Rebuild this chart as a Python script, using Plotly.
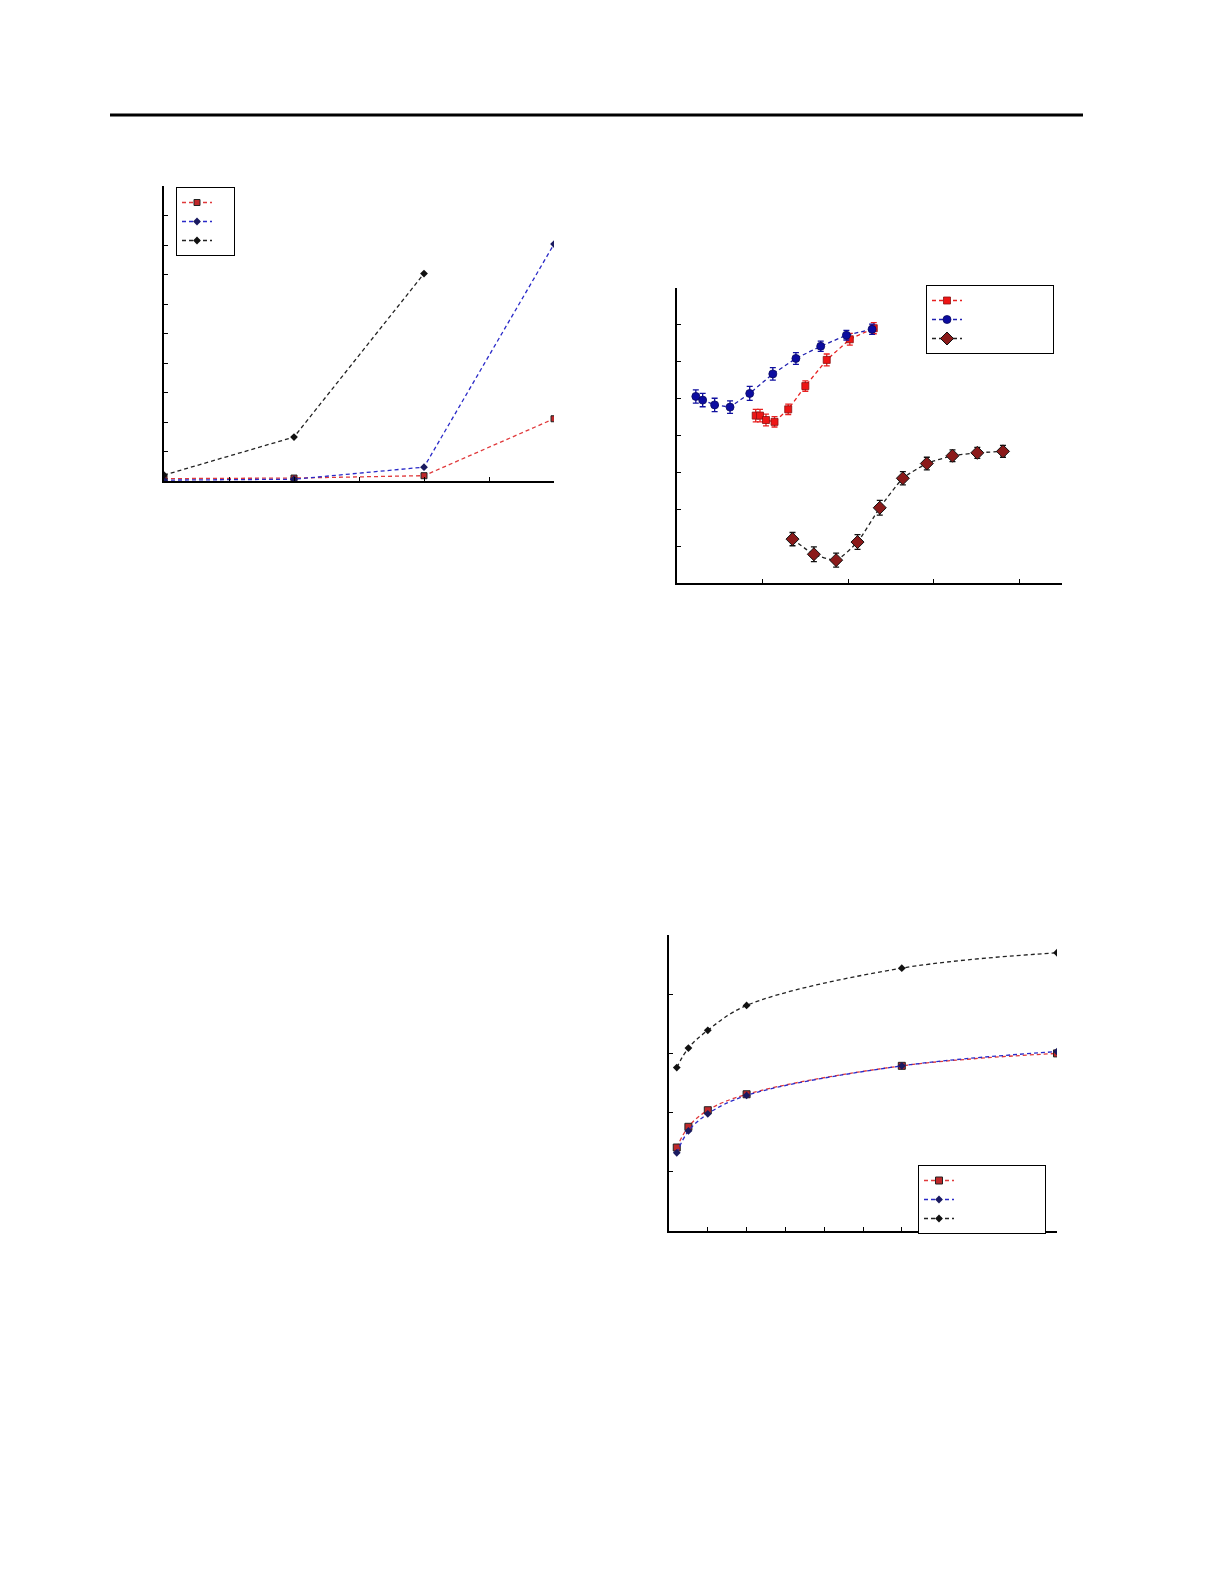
import plotly.graph_objects as go

# the page body adds an 8px margin all round, so the figure is 16px smaller
W, H = 1209, 1569
OFF = 8

# panel A (top left)
a_x = [0, 2, 4, 6]
a_red = [0.08, 0.10, 0.18, 2.11]
a_blue = [0.03, 0.06, 0.47, 8.03]
a_black_x = [0, 2, 4]
a_black = [0.20, 1.49, 7.03]

# panel B (top right), values with error bars
b_blue_x = [0.22, 0.30, 0.44, 0.62, 0.85, 1.12, 1.39, 1.68, 1.98, 2.28]
b_blue_y = [5.06, 4.96, 4.83, 4.77, 5.14, 5.67, 6.09, 6.42, 6.72, 6.88]
b_blue_err = [0.18, 0.18, 0.18, 0.17, 0.19, 0.17, 0.16, 0.14, 0.13, 0.14]
b_red_x = [0.92, 0.97, 1.04, 1.14, 1.30, 1.50, 1.75, 2.02, 2.30]
b_red_y = [4.54, 4.54, 4.42, 4.37, 4.71, 5.34, 6.05, 6.61, 6.91]
b_red_err = [0.17, 0.17, 0.16, 0.14, 0.14, 0.14, 0.16, 0.16, 0.15]
b_dia_x = [1.35, 1.60, 1.86, 2.11, 2.37, 2.64, 2.92, 3.22, 3.51, 3.81]
b_dia_y = [1.19, 0.78, 0.62, 1.11, 2.04, 2.84, 3.24, 3.45, 3.53, 3.57]
b_dia_err = [0.18, 0.20, 0.19, 0.20, 0.20, 0.18, 0.17, 0.16, 0.15, 0.16]

# panel C (lower right)
c_x = [0.2, 0.5, 1, 2, 6, 10]
c_red = [1.41, 1.76, 2.04, 2.31, 2.79, 3.00]
c_blue = [1.32, 1.69, 1.98, 2.29, 2.79, 3.03]
c_black = [2.76, 3.09, 3.39, 3.81, 4.44, 4.70]


def px(p):
    return (p - OFF) / W


def py(p):
    return 1 - (p - OFF) / H


# legend entries carry no visible label, only blank padding for the box width
short_name = "\u00a0" * 4
long_name = "\u00a0" * 29

fig = go.Figure()

dash = dict(dash="4px,3px", width=1.3)

# ---- panel A
fig.add_trace(go.Scatter(x=a_x, y=a_red, name=short_name, legend="legend",
                         mode="lines+markers", line=dict(color="#e0393b", **dash),
                         marker=dict(symbol="square", size=6, color="#c0282a",
                                     line=dict(color="#222", width=1))))
fig.add_trace(go.Scatter(x=a_x, y=a_blue, name=short_name, legend="legend",
                         mode="lines+markers", line=dict(color="#2a2ac8", **dash),
                         marker=dict(symbol="diamond", size=6, color="#1a1a60")))
fig.add_trace(go.Scatter(x=a_black_x, y=a_black, name=short_name, legend="legend",
                         mode="lines+markers", line=dict(color="#222", **dash),
                         marker=dict(symbol="diamond", size=6, color="#111")))

# ---- panel B
fig.add_trace(go.Scatter(x=b_red_x, y=b_red_y, name=long_name, legend="legend2",
                         xaxis="x2", yaxis="y2", mode="lines+markers",
                         line=dict(color="#e82020", **dash),
                         error_y=dict(type="data", array=b_red_err, color="#e82020",
                                      thickness=1.3, width=3),
                         marker=dict(symbol="square", size=7, color="#ee1515",
                                     line=dict(color="#8a1010", width=0.8))))
fig.add_trace(go.Scatter(x=b_blue_x, y=b_blue_y, name=long_name, legend="legend2",
                         xaxis="x2", yaxis="y2", mode="lines+markers",
                         line=dict(color="#2020b0", **dash),
                         error_y=dict(type="data", array=b_blue_err, color="#1010a0",
                                      thickness=1.3, width=3),
                         marker=dict(symbol="circle", size=8, color="#0c0ca0",
                                     line=dict(color="#0a0a60", width=0.8))))
fig.add_trace(go.Scatter(x=b_dia_x, y=b_dia_y, name=long_name, legend="legend2",
                         xaxis="x2", yaxis="y2", mode="lines+markers",
                         line=dict(color="#222", shape="spline", smoothing=0.5, **dash),
                         error_y=dict(type="data", array=b_dia_err, color="#111",
                                      thickness=1.3, width=3),
                         marker=dict(symbol="diamond", size=10, color="#8b1a1a",
                                     line=dict(color="#111", width=1))))

# ---- panel C
fig.add_trace(go.Scatter(x=c_x, y=c_red, name=long_name, legend="legend3",
                         xaxis="x3", yaxis="y3", mode="lines+markers",
                         line=dict(color="#e0393b", shape="spline", **dash),
                         marker=dict(symbol="square", size=7, color="#c0282a",
                                     line=dict(color="#222", width=1))))
fig.add_trace(go.Scatter(x=c_x, y=c_blue, name=long_name, legend="legend3",
                         xaxis="x3", yaxis="y3", mode="lines+markers",
                         line=dict(color="#2a2ac8", shape="spline", **dash),
                         marker=dict(symbol="diamond", size=6, color="#1a1a60")))
fig.add_trace(go.Scatter(x=c_x, y=c_black, name=long_name, legend="legend3",
                         xaxis="x3", yaxis="y3", mode="lines+markers",
                         line=dict(color="#222", shape="spline", **dash),
                         marker=dict(symbol="diamond", size=6, color="#111")))

axis_common = dict(showline=True, linecolor="black", linewidth=1.5, ticks="inside",
                   ticklen=4, tickcolor="black", tickwidth=1, showgrid=False,
                   zeroline=False, showticklabels=False)

legend_common = dict(xanchor="left", yanchor="top", bordercolor="black", borderwidth=1,
                     bgcolor="white", font=dict(size=10, family="Arial"), itemwidth=30)

fig.update_layout(
    width=W, height=H, margin=dict(l=0, r=0, t=0, b=0),
    paper_bgcolor="white", plot_bgcolor="white", showlegend=True,
    xaxis=dict(domain=[px(164), px(554)], range=[0, 6], dtick=1, anchor="y", **axis_common),
    yaxis=dict(domain=[py(481), py(186)], range=[0, 10], dtick=1, anchor="x", **axis_common),
    xaxis2=dict(domain=[px(677), px(1062)], range=[0, 4.5], dtick=1, anchor="y2", **axis_common),
    yaxis2=dict(domain=[py(583), py(288)], range=[0, 8], dtick=1, anchor="x2", **axis_common),
    xaxis3=dict(domain=[px(669), px(1057)], range=[0, 10], dtick=1, anchor="y3", **axis_common),
    yaxis3=dict(domain=[py(1231), py(935)], range=[0, 5], dtick=1, anchor="x3", **axis_common),
    legend=dict(x=px(176), y=py(187), **legend_common),
    legend2=dict(x=px(926), y=py(285), **legend_common),
    legend3=dict(x=px(918), y=py(1165), **legend_common),
    shapes=[dict(type="line", xref="paper", yref="paper", x0=px(110), x1=px(1083),
                 y0=py(115), y1=py(115), line=dict(color="black", width=3))],
)

fig.write_html("out.html")
